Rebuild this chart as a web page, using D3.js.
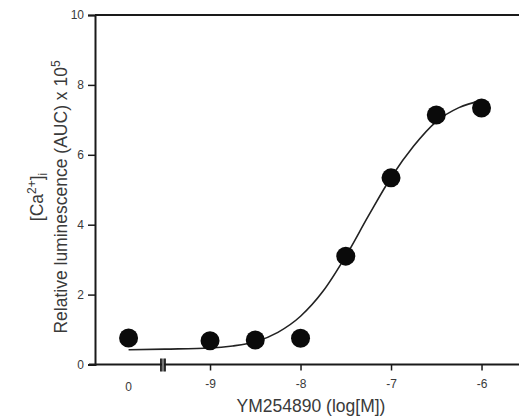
<!DOCTYPE html>
<html>
<head>
<meta charset="utf-8">
<script src="https://cdn.jsdelivr.net/npm/d3@7"></script>
<style>
  html, body { margin: 0; padding: 0; background: #fff; }
  svg { display: block; font-family: "Liberation Sans", Arial, sans-serif; }
</style>
</head>
<body>
<svg id="chart" width="519" height="418"></svg>
<script>
// Concentration-response data for YM254890 (log molar); vehicle shown at "0"
const doseLog = [-9.9, -9, -8.5, -8, -7.5, -7, -6.5, -6];
const response = [0.76, 0.68, 0.70, 0.75, 3.10, 5.34, 7.14, 7.34];

// Fitted sigmoid curve, sampled along the dose axis
const fitLog = [-9.9, -9.5, -9, -8.75, -8.5, -8.25, -8, -7.75, -7.5, -7.25, -7, -6.75, -6.5, -6.25, -6];
const fitResp = [0.42, 0.44, 0.47, 0.53, 0.65, 0.92, 1.38, 2.1, 3.1, 4.25, 5.35, 6.25, 6.95, 7.35, 7.55];

// Axis ticks
const xTickValues = [-9, -8, -7, -6];
const xTickLabels = ["-9", "-8", "-7", "-6"];
const vehicleLabel = "0";
const vehiclePos = -9.9;
const axisBreakPos = -9.52;
const yTickValues = [0, 2, 4, 6, 8, 10];

const svg = d3.select("#chart");
const plot = { left: 95, right: 519, top: 15, bottom: 364.5 };

const x = d3.scaleLinear().domain([-10.271, -5.586]).range([plot.left, plot.right]);
const y = d3.scaleLinear().domain([0, 10]).range([plot.bottom, plot.top]);

const ink = "#1a1a1a";
const textInk = "#3a3a3a";
const tickFont = "12px";
const titleFont = "17.5px";

// Top frame line
svg.append("line")
  .attr("x1", plot.left).attr("x2", plot.right)
  .attr("y1", plot.top).attr("y2", plot.top)
  .attr("stroke", ink).attr("stroke-width", 2);

// Y axis
const yAxis = svg.append("g")
  .attr("transform", `translate(${plot.left},0)`)
  .call(d3.axisLeft(y).tickValues(yTickValues).tickSize(7).tickPadding(4).tickFormat(d3.format("d")));
yAxis.select(".domain").attr("stroke", ink).attr("stroke-width", 2);
yAxis.selectAll(".tick line").attr("stroke", ink).attr("stroke-width", 1.5);
yAxis.selectAll(".tick text").attr("fill", textInk).style("font-size", tickFont);

// X axis
const xAxis = svg.append("g")
  .attr("transform", `translate(0,${plot.bottom})`)
  .call(d3.axisBottom(x).tickValues(xTickValues).tickSize(6).tickPadding(9)
    .tickFormat((d, i) => xTickLabels[i]));
xAxis.select(".domain").attr("stroke", ink).attr("stroke-width", 2)
  .attr("d", `M${plot.left - 6},0H${plot.right}`);
xAxis.selectAll(".tick line").attr("stroke", ink).attr("stroke-width", 1.5);
xAxis.selectAll(".tick text").attr("fill", textInk).style("font-size", tickFont);

// Vehicle label (no tick)
svg.append("text")
  .attr("x", x(vehiclePos)).attr("y", plot.bottom + 26)
  .attr("text-anchor", "middle")
  .attr("fill", textInk).style("font-size", tickFont)
  .text(vehicleLabel);

// Axis break mark
const bx = x(axisBreakPos);
svg.append("rect")
  .attr("x", bx - 1.2).attr("y", plot.bottom - 6)
  .attr("width", 2.4).attr("height", 13)
  .attr("fill", "#777");
[bx - 2, bx + 2].forEach(px => {
  svg.append("line")
    .attr("x1", px).attr("x2", px)
    .attr("y1", plot.bottom - 6).attr("y2", plot.bottom + 7)
    .attr("stroke", ink).attr("stroke-width", 1.8);
});

// Fitted curve
const fitData = fitLog.map((v, i) => [v, fitResp[i]]);
svg.append("path")
  .datum(fitData)
  .attr("fill", "none")
  .attr("stroke", "#222")
  .attr("stroke-width", 1.6)
  .attr("d", d3.line().x(d => x(d[0])).y(d => y(d[1])).curve(d3.curveMonotoneX));

// Data points
svg.append("g").selectAll("circle")
  .data(doseLog.map((v, i) => [v, response[i]]))
  .join("circle")
  .attr("cx", d => x(d[0]))
  .attr("cy", d => y(d[1]))
  .attr("r", 9.5)
  .attr("fill", "#0a0a0a");

// Axis titles
svg.append("text")
  .attr("x", 311).attr("y", 412)
  .attr("text-anchor", "middle")
  .attr("fill", textInk).style("font-size", titleFont)
  .text("YM254890 (log[M])");

const yTitle = svg.append("g").attr("transform", "translate(0,197) rotate(-90)");
const line1 = yTitle.append("text")
  .attr("x", 0).attr("y", 43)
  .attr("text-anchor", "middle")
  .attr("fill", textInk).style("font-size", titleFont);
line1.append("tspan").text("[Ca");
line1.append("tspan").attr("dy", -7).style("font-size", "12px").text("2+");
line1.append("tspan").attr("dy", 7).text("]");
line1.append("tspan").attr("dy", 4).style("font-size", "12px").text("i");

const line2 = yTitle.append("text")
  .attr("x", 0).attr("y", 67)
  .attr("text-anchor", "middle")
  .attr("fill", textInk).style("font-size", titleFont);
line2.append("tspan").text("Relative luminescence (AUC) x 10");
line2.append("tspan").attr("dy", -7).style("font-size", "12px").text("5");
</script>
</body>
</html>
